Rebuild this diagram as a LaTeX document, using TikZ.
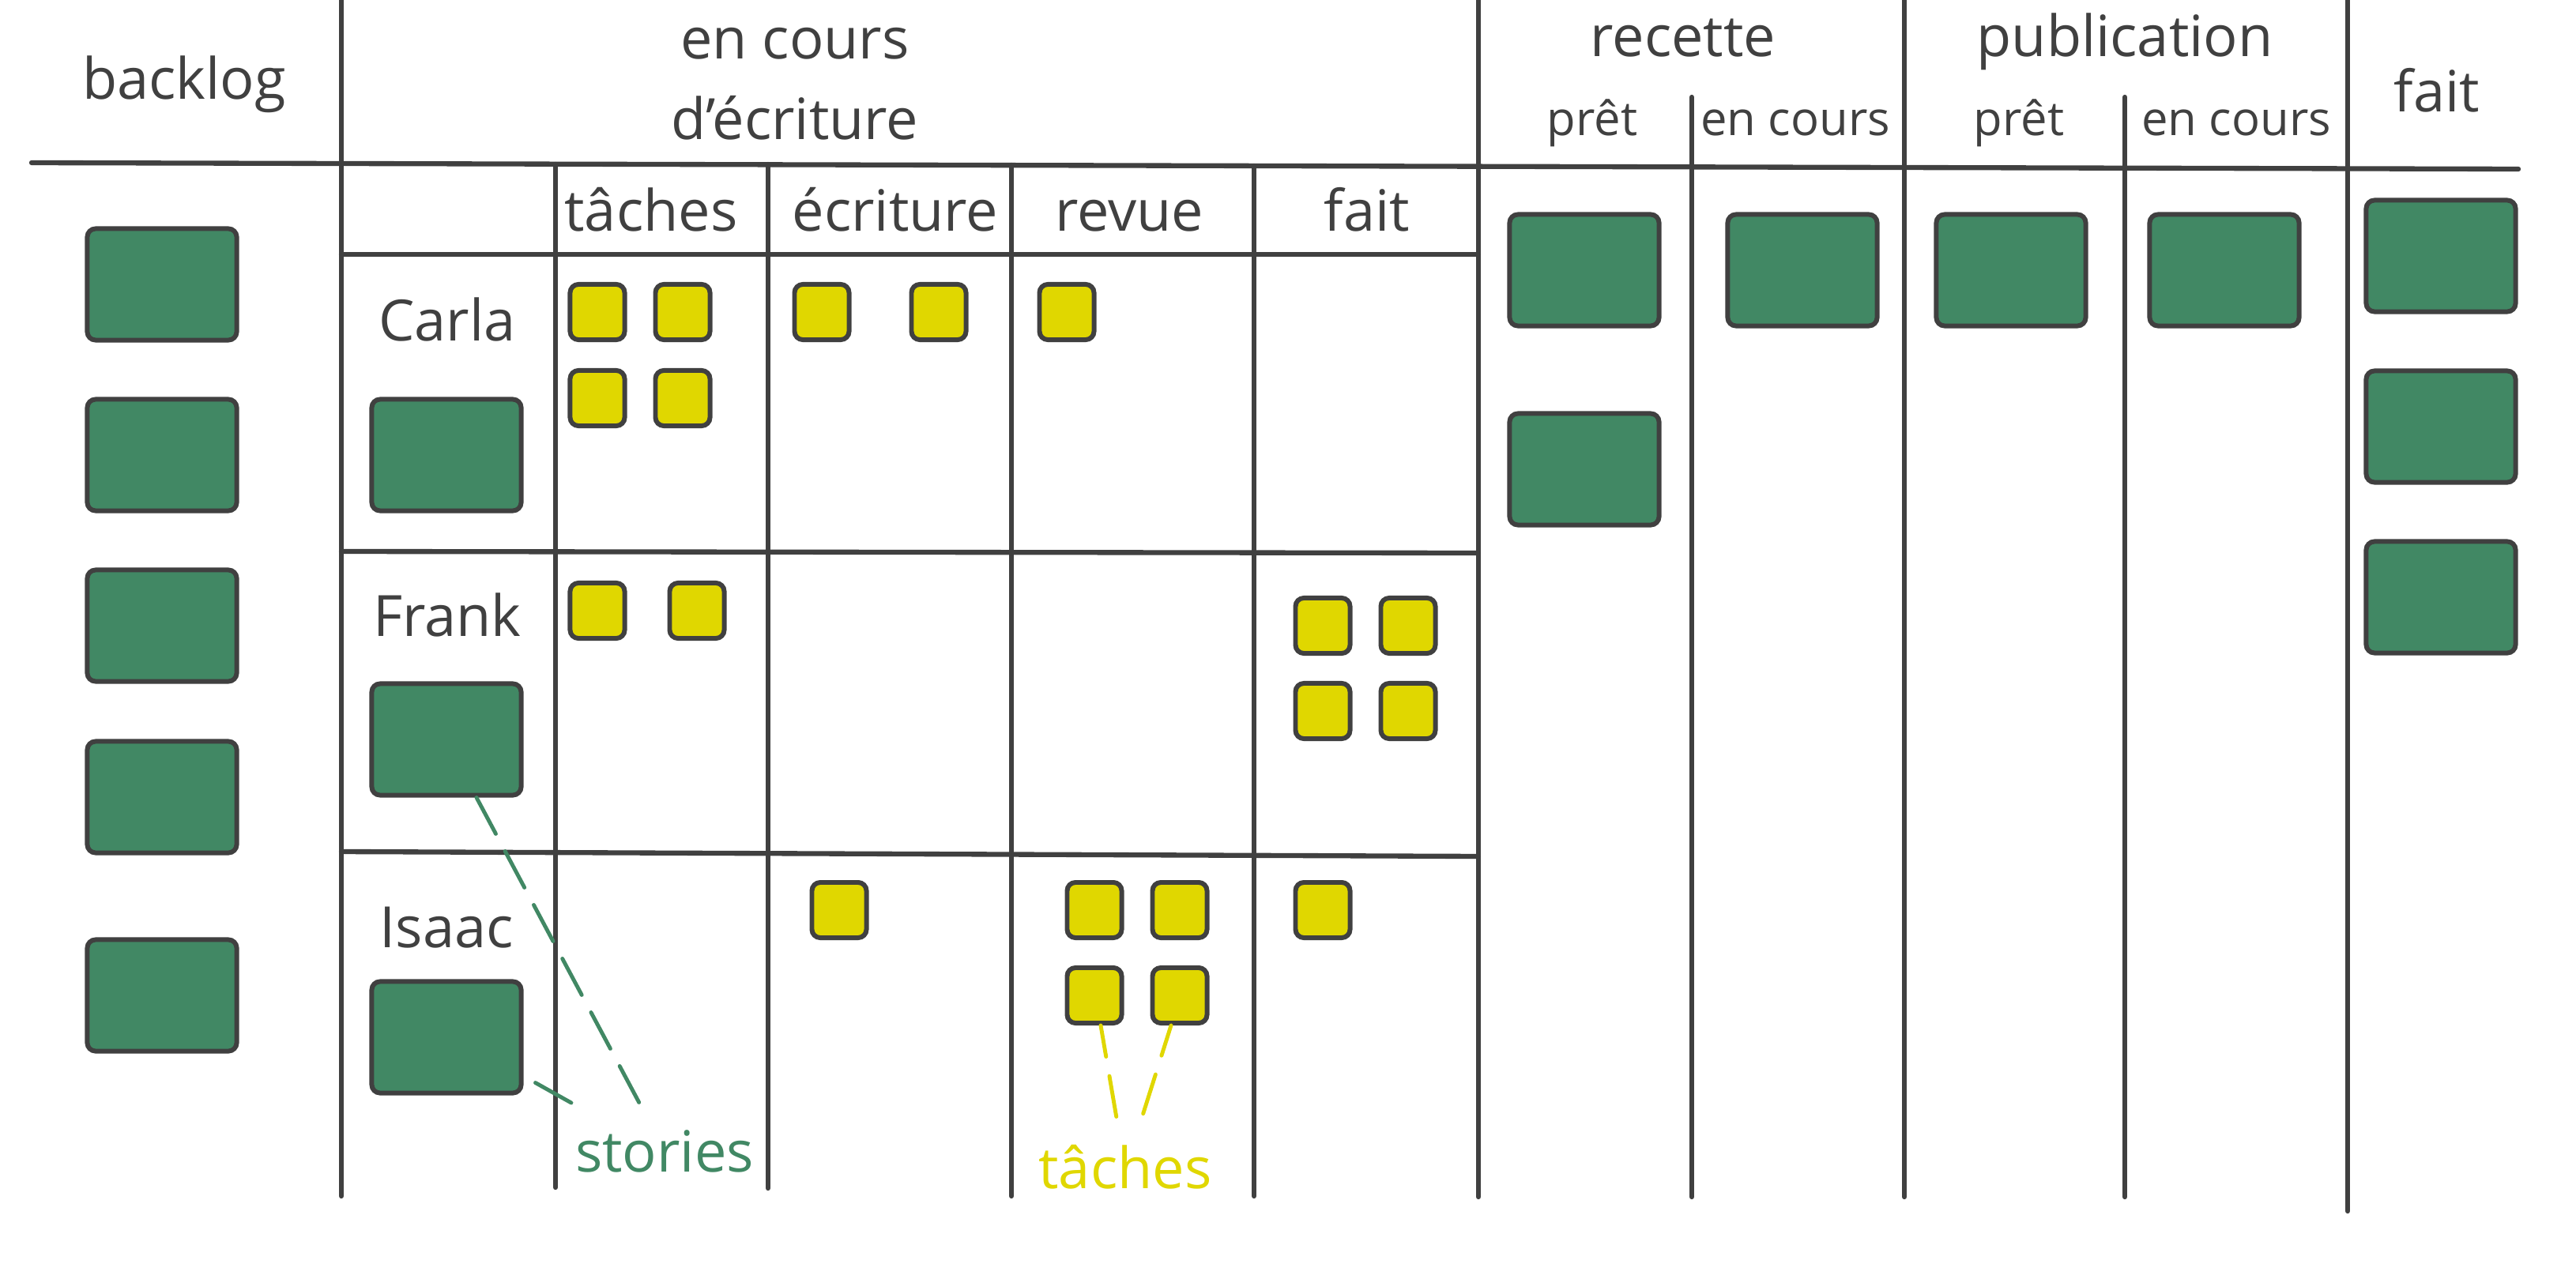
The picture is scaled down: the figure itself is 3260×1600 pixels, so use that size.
\documentclass[tikz,border=0pt]{standalone}
\usepackage{fontspec}
\setmainfont{Open Sans}
\usetikzlibrary{calc}
\definecolor{boardgray}{RGB}{64,64,64}
\definecolor{storygreen}{RGB}{65,136,100}
\definecolor{taskyellow}{RGB}{224,215,0}
\tikzset{
  rule/.style={draw=boardgray,line width=1.8pt,line cap=round},
  story/.style={draw=boardgray,line width=1.7pt,fill=storygreen,rounded corners=3pt,minimum width=1.89cm,minimum height=1.41cm,inner sep=0pt},
  task/.style={story,fill=taskyellow,minimum width=0.69cm,minimum height=0.70cm},
  head/.style={text=boardgray,font=\fontsize{20.5}{29}\selectfont,anchor=base,inner sep=0pt,align=center},
  subhead/.style={head,font=\fontsize{17}{20}\selectfont},
  note/.style={dash pattern=on 0.52cm off 0.25cm,line width=1.4pt,line cap=round}
}
\begin{document}
\begin{tikzpicture}[x=0.01cm,y=-0.01cm]
\useasboundingbox (0,0) rectangle (3260,1600);
% board columns
\draw[rule] (432,0) -- (432,1514);
\draw[rule] (1871,0) -- (1871,1515);
\draw[rule] (2410,0) -- (2410,1515);
\draw[rule] (2971,0) -- (2971,1533);
\draw[rule] (2141,123) -- (2141,1515);
\draw[rule] (2689,123) -- (2689,1515);
\draw[rule] (40,206) -- (3187,214);
% writing swimlanes
\draw[rule] (432,322) -- (1871,322);
\draw[rule] (432,698) -- (1871,700);
\draw[rule] (432,1078) -- (1871,1084);
\draw[rule] (703,208) -- (703,1503);
\draw[rule] (972,208) -- (972,1504);
\draw[rule] (1280,209) -- (1280,1514);
\draw[rule] (1587,210) -- (1587,1514);
% headers
\node[head] (backlog) at (233,126) {backlog};
\node[head] (writing) at (1006,176) {en cours\\d’écriture};
\node[head] (acceptance) at (2130,72) {recette};
\node[head] (publishing) at (2689,72) {publication};
\node[head] (done) at (3084,142) {fait};
\node[subhead] (accready) at (2015,172) {prêt};
\node[subhead] (accbusy) at (2272,172) {en cours};
\node[subhead] (pubready) at (2555,172) {prêt};
\node[subhead] (pubbusy) at (2830,172) {en cours};
\node[head] (tasks) at (824,292) {tâches};
\node[head] (coding) at (1133,292) {écriture};
\node[head] (review) at (1429,292) {revue};
\node[head] (finished) at (1730,292) {fait};
\node[head] (carla) at (566,431) {Carla};
\node[head] (frank) at (566,805) {Frank};
\node[head] (isaac) at (565,1199) {Isaac};
% stories
\node[story] (bl1) at (205,360) {};
\node[story] (bl2) at (205,576) {};
\node[story] (bl3) at (205,792) {};
\node[story] (bl4) at (205,1009) {};
\node[story] (bl5) at (205,1260) {};
\node[story] (carlacard) at (565,576) {};
\node[story] (frankcard) at (565,936) {};
\node[story] (isaaccard) at (565,1313) {};
\node[story] (accready1) at (2005,342) {};
\node[story] (accready2) at (2005,594) {};
\node[story] (accbusy1) at (2281,342) {};
\node[story] (pubready1) at (2545,342) {};
\node[story] (pubbusy1) at (2815,342) {};
\node[story] (done1) at (3089,324) {};
\node[story] (done2) at (3089,540) {};
\node[story] (done3) at (3089,756) {};
% tasks
\node[task] (ct1) at (756,395) {};
\node[task] (ct2) at (864,395) {};
\node[task] (ct3) at (756,504) {};
\node[task] (ct4) at (864,504) {};
\node[task] (cw1) at (1040,395) {};
\node[task] (cw2) at (1188,395) {};
\node[task] (cr1) at (1350,395) {};
\node[task] (ft1) at (756,773) {};
\node[task] (ft2) at (882,773) {};
\node[task] (fd1) at (1674,792) {};
\node[task] (fd2) at (1782,792) {};
\node[task] (fd3) at (1674,900) {};
\node[task] (fd4) at (1782,900) {};
\node[task] (iw1) at (1062,1152) {};
\node[task] (ir1) at (1385,1152) {};
\node[task] (ir2) at (1493,1152) {};
\node[task] (ir3) at (1385,1260) {};
\node[task] (ir4) at (1493,1260) {};
\node[task] (id1) at (1674,1152) {};
% legend
\node[head,text=storygreen] (stories) at (841,1483) {stories};
\node[head,text=taskyellow] (tasknote) at (1424,1504) {tâches};
\coordinate (storytip) at (809,1396);
\coordinate (storyfoot) at (723,1396);
\coordinate (tasktipl) at (1413,1415);
\coordinate (tasktipr) at (1445,1415);
\draw[note,storygreen] ($(frankcard.south)+(38,0)$) -- (storytip);
\draw[note,storygreen] ($(isaaccard.south east)+(15,-16)$) -- (storyfoot);
\draw[note,taskyellow,dash phase=0.12cm] ($(ir3.south)+(8,0)$) -- (tasktipl);
\draw[note,taskyellow,dash phase=0.12cm] ($(ir4.south)+(-11,0)$) -- (tasktipr);
\end{tikzpicture}
\end{document}
